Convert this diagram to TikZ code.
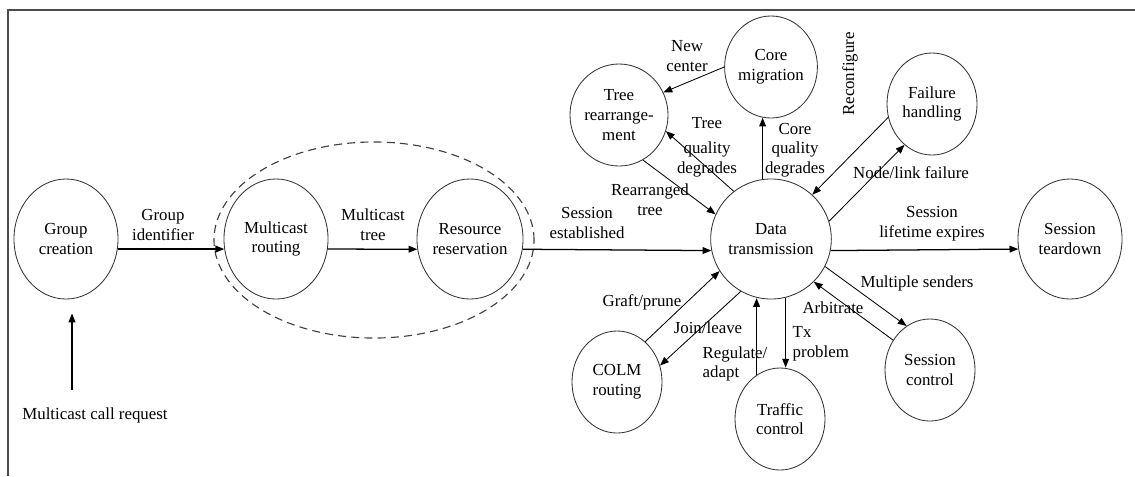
\documentclass[tikz,border=0pt]{standalone}
\usepackage{fontspec}
\setmainfont{Liberation Serif}
\usetikzlibrary{shapes.geometric,arrows.meta,calc}

\begin{document}
\begin{tikzpicture}[
  x=0.025cm, y=-0.025cm,
  font=\fontsize{12}{14}\selectfont,
  >={Triangle[length=2.2mm, width=1.7mm]},
  st/.style={ellipse, draw=black!80, line width=0.6pt, inner sep=0pt, align=center,
             minimum width=2.6cm, minimum height=3cm},
  sub/.style={st, minimum width=2.25cm, minimum height=2.55cm},
  grp/.style={ellipse, draw=black!75, line width=0.8pt, dash pattern=on 2mm off 1.3mm,
              minimum width=8cm, minimum height=4.9cm},
  flow/.style={->, line width=0.6pt},
  main/.style={->, line width=0.9pt},
  lbl/.style={align=center, inner sep=1pt},
]
\useasboundingbox (0,0) rectangle (1135,476);

% ---- frame -----------------------------------------------------------------
\draw[line width=1.2pt, black!70] (8,476) -- (8,10) -- (1135,10);

% ---- states on the main line -------------------------------------------------
\foreach \n/\x/\t in {gc/66/Group\\creation, mr/276/Multicast\\routing,
                      rr/470/Resource\\reservation, dt/771/Data\\transmission,
                      td/1070/Session\\teardown}{
  \node[st] (\n) at (\x,239) {\t};
}
\node[grp] (phase) at (374,240) {};

% ---- states round data transmission ------------------------------------------
\node[sub] (tr) at (619,115) {Tree\\rearrange-\\ment};
\node[sub] (cm) at (771,67)  {Core\\migration};
\node[sub] (fh) at (932,104) {Failure\\handling};
\node[sub] (cr) at (617,382) {COLM\\routing};
\node[sub] (tc) at (780,419) {Traffic\\control};
\node[sub] (sc) at (930,370) {Session\\control};

% ---- main line ---------------------------------------------------------------
\draw[main] (gc.-11) -- (mr.191);
\draw[main] (mr.-11) -- (rr.191);
\draw[main] (rr.-11) -- (dt.191);
\draw[main] (dt.-11) -- (td.191);
\node[lbl] (gid)   at (163,225) {Group\\identifier};
\node[lbl] (mtree) at (373,225) {Multicast\\tree};
\node[lbl] (sest)  at (587,223) {Session\\established};
\node[lbl] (slife) at (932,224) {Session\\lifetime expires};

% call request enters from below
\node[lbl] (req) at (95,415) {Multicast call request};
\coordinate (callin) at (72,390);
\draw[flow, line width=0.8pt, shorten >=0.35cm] (callin) -- (callin |- gc.south);

% ---- loops round data transmission -------------------------------------------
\draw[flow] (tr.-62) -- (dt.156);
\draw[flow] (dt.128) -- (tr.-19);
\draw[flow] (cm.180) -- (tr.27);
\draw[flow, line width=0.8pt] (dt.98) -- (dt.98 |- cm.-99);
\draw[flow] (fh.-163) -- (dt.47);
\draw[flow] (dt.17) -- (fh.-124);
\draw[flow] (dt.-27) -- (sc.118);
\draw[flow] (sc.141) -- (dt.-45);
\draw[flow, line width=0.8pt] (dt.-76) -- (dt.-76 |- tc.north);
\draw[flow, line width=0.8pt] (tc.118) -- (tc.118 |- dt.-102);
\draw[flow] (cr.55) -- (dt.-148);
\draw[flow] (dt.-120) -- (cr.21);

\node[lbl] (rtree)  at (650,200) {Rearranged\\tree};
\node[lbl] (tqual)  at (707,147) {Tree\\[4pt]quality\\degrades};
\node[lbl] (newc)   at (687,56)  {New\\center};
\node[lbl] (cqual)  at (795,150) {Core\\quality\\degrades};
\node[lbl, rotate=90] (reconf) at (850,74) {Reconfigure};
\node[lbl] (nlf)    at (911,173) {Node/link failure};
\node[lbl] (msend)  at (917,283) {Multiple senders};
\node[lbl] (arb)    at (833,308) {Arbitrate};
\node[lbl, align=left, anchor=west] (tx)  at (791,344) {Tx\\problem};
\node[lbl, align=left, anchor=west] (reg) at (701,364) {Regulate/\\adapt};
\node[lbl] (join)   at (708,328) {Join/leave};
\node[lbl] (graft)  at (642,302) {Graft/prune};
\end{tikzpicture}
\end{document}
